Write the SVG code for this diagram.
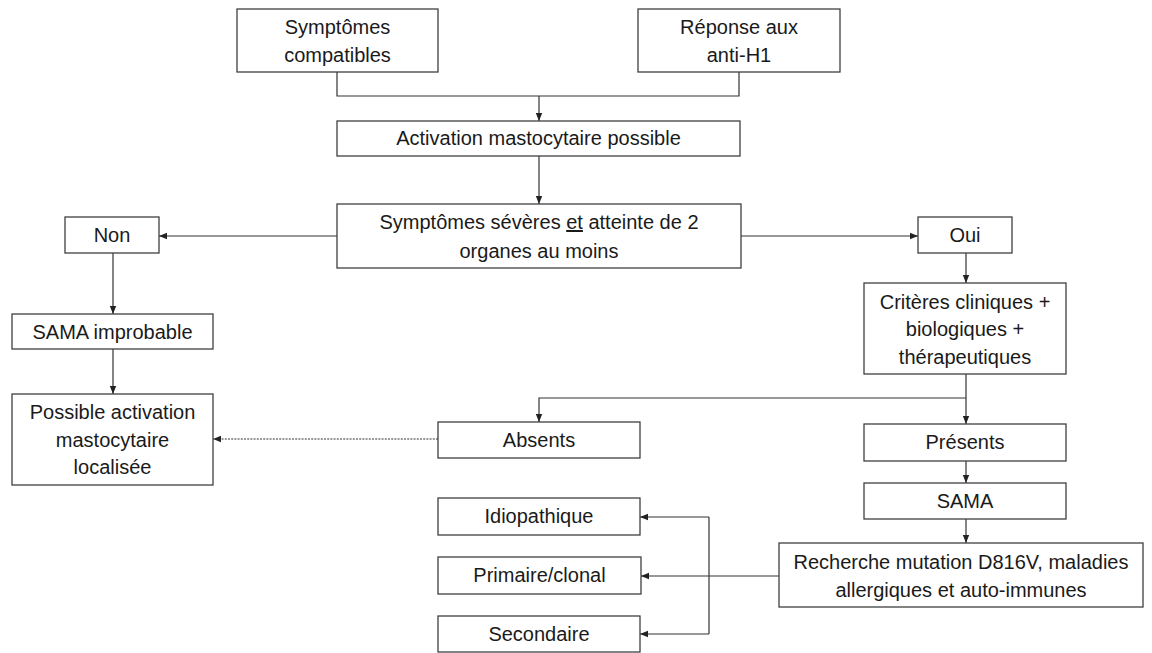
<svg xmlns="http://www.w3.org/2000/svg" width="1152" height="653" viewBox="0 0 1152 653">
<style>
.box{fill:#fff;stroke:#404040;stroke-width:1.3}
.t{font-family:"Liberation Sans",Arial,sans-serif;font-size:20px;fill:#1a1a1a;text-anchor:middle}
.c{fill:none;stroke:#333;stroke-width:1.2}
.d{fill:none;stroke:#333;stroke-width:1.2;stroke-dasharray:2 1.2}
</style>
<defs>
<marker id="ah" viewBox="0 0 8 8" refX="8" refY="4" markerWidth="8" markerHeight="8" markerUnits="userSpaceOnUse" orient="auto">
<path d="M0,0.8 L8,4 L0,7.2 Z" fill="#222"/>
</marker>
</defs>
<rect width="1152" height="653" fill="#fff"/>
<g id="connectors">
<path class="c" d="M337,72 V96 H739 V72"/>
<path class="c" d="M539,96 V121" marker-end="url(#ah)"/>
<path class="c" d="M539,156 V204" marker-end="url(#ah)"/>
<path class="c" d="M337,236 H159" marker-end="url(#ah)"/>
<path class="c" d="M741,236 H918" marker-end="url(#ah)"/>
<path class="c" d="M113,253 V314" marker-end="url(#ah)"/>
<path class="c" d="M113,349 V394" marker-end="url(#ah)"/>
<path class="c" d="M966,253 V283" marker-end="url(#ah)"/>
<path class="c" d="M966,374 V424" marker-end="url(#ah)"/>
<path class="c" d="M966,398 H539 V422" marker-end="url(#ah)"/>
<path class="d" d="M438,439 H213" marker-end="url(#ah)"/>
<path class="c" d="M966,461 V483" marker-end="url(#ah)"/>
<path class="c" d="M966,519 V543" marker-end="url(#ah)"/>
<path class="c" d="M779,576 H641" marker-end="url(#ah)"/>
<path class="c" d="M709,517 H640" marker-end="url(#ah)"/>
<path class="c" d="M709,634 H640" marker-end="url(#ah)"/>
<path class="c" d="M709,517 V634"/>
</g>
<g id="n-symptomes">
<rect class="box" x="237" y="9" width="201" height="63"/>
<text class="t" x="337.5" y="34">Symptômes</text>
<text class="t" x="337.5" y="62">compatibles</text>
</g>
<g id="n-reponse">
<rect class="box" x="638" y="9" width="202" height="63"/>
<text class="t" x="739" y="34">Réponse aux</text>
<text class="t" x="739" y="62">anti-H1</text>
</g>
<g id="n-activation">
<rect class="box" x="337" y="121" width="403" height="35"/>
<text class="t" x="538.5" y="145">Activation mastocytaire possible</text>
</g>
<g id="n-severes">
<rect class="box" x="337" y="204" width="404" height="64"/>
<text class="t" x="539" y="229">Symptômes sévères <tspan text-decoration="underline">et</tspan> atteinte de 2</text>
<text class="t" x="539" y="258">organes au moins</text>
</g>
<g id="n-non">
<rect class="box" x="65" y="217" width="94" height="36"/>
<text class="t" x="112" y="242">Non</text>
</g>
<g id="n-oui">
<rect class="box" x="918" y="217" width="94" height="36"/>
<text class="t" x="965" y="242">Oui</text>
</g>
<g id="n-improbable">
<rect class="box" x="12" y="314" width="201" height="35"/>
<text class="t" x="112.5" y="339">SAMA improbable</text>
</g>
<g id="n-localisee">
<rect class="box" x="12" y="394" width="201" height="91"/>
<text class="t" x="112.5" y="419">Possible activation</text>
<text class="t" x="112.5" y="447">mastocytaire</text>
<text class="t" x="112.5" y="474">localisée</text>
</g>
<g id="n-criteres">
<rect class="box" x="864" y="283" width="202" height="91"/>
<text class="t" x="965" y="309">Critères cliniques +</text>
<text class="t" x="965" y="336">biologiques +</text>
<text class="t" x="965" y="364">thérapeutiques</text>
</g>
<g id="n-absents">
<rect class="box" x="438" y="422" width="202" height="36"/>
<text class="t" x="539" y="447">Absents</text>
</g>
<g id="n-presents">
<rect class="box" x="864" y="424" width="202" height="37"/>
<text class="t" x="965" y="449">Présents</text>
</g>
<g id="n-sama">
<rect class="box" x="864" y="483" width="202" height="36"/>
<text class="t" x="965" y="508">SAMA</text>
</g>
<g id="n-recherche">
<rect class="box" x="779" y="543" width="364" height="64"/>
<text class="t" x="961" y="569">Recherche mutation D816V, maladies</text>
<text class="t" x="961" y="597">allergiques et auto-immunes</text>
</g>
<g id="n-idiopathique">
<rect class="box" x="438" y="498" width="202" height="37"/>
<text class="t" x="539" y="523">Idiopathique</text>
</g>
<g id="n-primaire">
<rect class="box" x="438" y="557" width="203" height="37"/>
<text class="t" x="539.5" y="582">Primaire/clonal</text>
</g>
<g id="n-secondaire">
<rect class="box" x="438" y="616" width="202" height="36"/>
<text class="t" x="539" y="641">Secondaire</text>
</g>
</svg>
